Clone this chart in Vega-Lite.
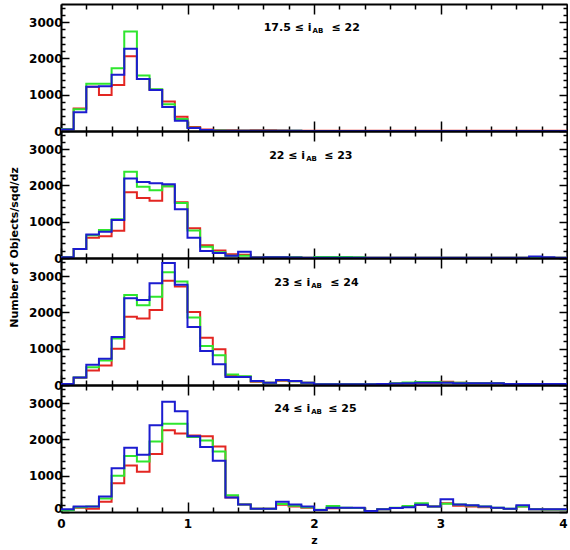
{
  "$schema": "https://vega.github.io/schema/vega-lite/v6.json",
  "background": "white",
  "padding": {"left": 8, "top": 1, "right": 0, "bottom": 0},
  "spacing": 0,
  "bounds": "flush",
  "config": {
    "view": {"stroke": null},
    "axis": {"domainColor": "black", "domainWidth": 2, "tickColor": "black", "tickWidth": 1.5, "labelFont": "DejaVu Sans", "labelFontWeight": "bold", "labelFontSize": 12, "labelColor": "black", "titleFont": "DejaVu Sans", "titleFontWeight": "bold", "titleFontSize": 11, "titleColor": "black", "grid": false, "labelOverlap": false, "zindex": 1},
    "text": {"font": "DejaVu Sans", "fontWeight": "bold", "fontSize": 11, "color": "black"}
  },
  "datasets": {
    "hist": [
      {"panel":1,"z":0.0,"red":50,"green":50,"blue":40},
      {"panel":1,"z":0.1,"red":620,"green":600,"blue":520},
      {"panel":1,"z":0.2,"red":1220,"green":1300,"blue":1220},
      {"panel":1,"z":0.3,"red":990,"green":1300,"blue":1230},
      {"panel":1,"z":0.4,"red":1270,"green":1730,"blue":1550},
      {"panel":1,"z":0.5,"red":2060,"green":2740,"blue":2270},
      {"panel":1,"z":0.6,"red":1430,"green":1530,"blue":1430},
      {"panel":1,"z":0.7,"red":1140,"green":1150,"blue":1130},
      {"panel":1,"z":0.8,"red":810,"green":740,"blue":660},
      {"panel":1,"z":0.9,"red":390,"green":330,"blue":280},
      {"panel":1,"z":1.0,"red":110,"green":90,"blue":80},
      {"panel":1,"z":1.1,"red":40,"green":30,"blue":25},
      {"panel":1,"z":1.2,"red":20,"green":15,"blue":10},
      {"panel":1,"z":1.3,"red":20,"green":10,"blue":10},
      {"panel":1,"z":1.4,"red":15,"green":10,"blue":5},
      {"panel":1,"z":1.5,"red":20,"green":10,"blue":5},
      {"panel":1,"z":1.6,"red":20,"green":5,"blue":5},
      {"panel":1,"z":1.7,"red":15,"green":5,"blue":5},
      {"panel":1,"z":1.8,"red":10,"green":5,"blue":5},
      {"panel":1,"z":1.9,"red":5,"green":3,"blue":3},
      {"panel":1,"z":2.0,"red":5,"green":3,"blue":3},
      {"panel":1,"z":2.1,"red":5,"green":3,"blue":3},
      {"panel":1,"z":2.2,"red":5,"green":3,"blue":3},
      {"panel":1,"z":2.3,"red":5,"green":3,"blue":3},
      {"panel":1,"z":2.4,"red":5,"green":3,"blue":3},
      {"panel":1,"z":2.5,"red":5,"green":3,"blue":3},
      {"panel":1,"z":2.6,"red":5,"green":3,"blue":3},
      {"panel":1,"z":2.7,"red":5,"green":3,"blue":3},
      {"panel":1,"z":2.8,"red":5,"green":3,"blue":3},
      {"panel":1,"z":2.9,"red":5,"green":3,"blue":3},
      {"panel":1,"z":3.0,"red":5,"green":3,"blue":3},
      {"panel":1,"z":3.1,"red":5,"green":3,"blue":3},
      {"panel":1,"z":3.2,"red":5,"green":3,"blue":3},
      {"panel":1,"z":3.3,"red":5,"green":3,"blue":3},
      {"panel":1,"z":3.4,"red":5,"green":3,"blue":3},
      {"panel":1,"z":3.5,"red":5,"green":3,"blue":3},
      {"panel":1,"z":3.6,"red":5,"green":3,"blue":3},
      {"panel":1,"z":3.7,"red":5,"green":3,"blue":3},
      {"panel":1,"z":3.8,"red":5,"green":3,"blue":3},
      {"panel":1,"z":3.9,"red":5,"green":3,"blue":3},
      {"panel":1,"z":4.0,"red":5,"green":3,"blue":3},

      {"panel":2,"z":0.0,"red":20,"green":20,"blue":20},
      {"panel":2,"z":0.1,"red":250,"green":250,"blue":250},
      {"panel":2,"z":0.2,"red":560,"green":630,"blue":650},
      {"panel":2,"z":0.3,"red":600,"green":770,"blue":720},
      {"panel":2,"z":0.4,"red":750,"green":1070,"blue":1050},
      {"panel":2,"z":0.5,"red":1815,"green":2375,"blue":2190},
      {"panel":2,"z":0.6,"red":1655,"green":1965,"blue":2095},
      {"panel":2,"z":0.7,"red":1580,"green":1870,"blue":2060},
      {"panel":2,"z":0.8,"red":1980,"green":1980,"blue":2030},
      {"panel":2,"z":0.9,"red":1535,"green":1515,"blue":1345},
      {"panel":2,"z":1.0,"red":820,"green":760,"blue":560},
      {"panel":2,"z":1.1,"red":350,"green":310,"blue":190},
      {"panel":2,"z":1.2,"red":205,"green":160,"blue":140},
      {"panel":2,"z":1.3,"red":100,"green":60,"blue":60},
      {"panel":2,"z":1.4,"red":90,"green":60,"blue":170},
      {"panel":2,"z":1.5,"red":20,"green":15,"blue":15},
      {"panel":2,"z":1.6,"red":25,"green":20,"blue":20},
      {"panel":2,"z":1.7,"red":30,"green":20,"blue":20},
      {"panel":2,"z":1.8,"red":20,"green":20,"blue":15},
      {"panel":2,"z":1.9,"red":10,"green":10,"blue":10},
      {"panel":2,"z":2.0,"red":10,"green":30,"blue":10},
      {"panel":2,"z":2.1,"red":10,"green":30,"blue":10},
      {"panel":2,"z":2.2,"red":10,"green":25,"blue":10},
      {"panel":2,"z":2.3,"red":10,"green":20,"blue":10},
      {"panel":2,"z":2.4,"red":10,"green":10,"blue":10},
      {"panel":2,"z":2.5,"red":10,"green":10,"blue":10},
      {"panel":2,"z":2.6,"red":10,"green":10,"blue":10},
      {"panel":2,"z":2.7,"red":10,"green":10,"blue":10},
      {"panel":2,"z":2.8,"red":10,"green":10,"blue":10},
      {"panel":2,"z":2.9,"red":10,"green":10,"blue":10},
      {"panel":2,"z":3.0,"red":10,"green":10,"blue":10},
      {"panel":2,"z":3.1,"red":10,"green":10,"blue":10},
      {"panel":2,"z":3.2,"red":10,"green":10,"blue":10},
      {"panel":2,"z":3.3,"red":10,"green":10,"blue":10},
      {"panel":2,"z":3.4,"red":10,"green":10,"blue":10},
      {"panel":2,"z":3.5,"red":10,"green":10,"blue":10},
      {"panel":2,"z":3.6,"red":10,"green":10,"blue":10},
      {"panel":2,"z":3.7,"red":10,"green":10,"blue":40},
      {"panel":2,"z":3.8,"red":10,"green":10,"blue":20},
      {"panel":2,"z":3.9,"red":10,"green":10,"blue":10},
      {"panel":2,"z":4.0,"red":10,"green":10,"blue":10},

      {"panel":3,"z":0.0,"red":30,"green":30,"blue":30},
      {"panel":3,"z":0.1,"red":200,"green":210,"blue":210},
      {"panel":3,"z":0.2,"red":400,"green":490,"blue":555},
      {"panel":3,"z":0.3,"red":540,"green":675,"blue":720},
      {"panel":3,"z":0.4,"red":1000,"green":1280,"blue":1325},
      {"panel":3,"z":0.5,"red":1880,"green":2480,"blue":2390},
      {"panel":3,"z":0.6,"red":1830,"green":2200,"blue":2340},
      {"panel":3,"z":0.7,"red":2065,"green":2435,"blue":2805},
      {"panel":3,"z":0.8,"red":2870,"green":3110,"blue":3360},
      {"panel":3,"z":0.9,"red":2715,"green":2850,"blue":2760},
      {"panel":3,"z":1.0,"red":2015,"green":1860,"blue":1600},
      {"panel":3,"z":1.1,"red":1305,"green":1075,"blue":940},
      {"panel":3,"z":1.2,"red":985,"green":820,"blue":570},
      {"panel":3,"z":1.3,"red":260,"green":290,"blue":220},
      {"panel":3,"z":1.4,"red":230,"green":240,"blue":220},
      {"panel":3,"z":1.5,"red":90,"green":100,"blue":110},
      {"panel":3,"z":1.6,"red":60,"green":60,"blue":60},
      {"panel":3,"z":1.7,"red":120,"green":130,"blue":140},
      {"panel":3,"z":1.8,"red":100,"green":100,"blue":110},
      {"panel":3,"z":1.9,"red":60,"green":60,"blue":60},
      {"panel":3,"z":2.0,"red":20,"green":20,"blue":20},
      {"panel":3,"z":2.1,"red":20,"green":20,"blue":20},
      {"panel":3,"z":2.2,"red":20,"green":20,"blue":20},
      {"panel":3,"z":2.3,"red":20,"green":20,"blue":20},
      {"panel":3,"z":2.4,"red":20,"green":20,"blue":20},
      {"panel":3,"z":2.5,"red":30,"green":30,"blue":30},
      {"panel":3,"z":2.6,"red":40,"green":50,"blue":40},
      {"panel":3,"z":2.7,"red":50,"green":70,"blue":50},
      {"panel":3,"z":2.8,"red":60,"green":80,"blue":60},
      {"panel":3,"z":2.9,"red":60,"green":80,"blue":60},
      {"panel":3,"z":3.0,"red":90,"green":70,"blue":60},
      {"panel":3,"z":3.1,"red":60,"green":60,"blue":50},
      {"panel":3,"z":3.2,"red":50,"green":50,"blue":50},
      {"panel":3,"z":3.3,"red":50,"green":50,"blue":50},
      {"panel":3,"z":3.4,"red":50,"green":50,"blue":50},
      {"panel":3,"z":3.5,"red":30,"green":30,"blue":30},
      {"panel":3,"z":3.6,"red":30,"green":30,"blue":30},
      {"panel":3,"z":3.7,"red":30,"green":30,"blue":30},
      {"panel":3,"z":3.8,"red":30,"green":30,"blue":30},
      {"panel":3,"z":3.9,"red":30,"green":30,"blue":30},
      {"panel":3,"z":4.0,"red":30,"green":30,"blue":30},

      {"panel":4,"z":0.0,"red":55,"green":50,"blue":75},
      {"panel":4,"z":0.1,"red":120,"green":130,"blue":150},
      {"panel":4,"z":0.2,"red":90,"green":150,"blue":150},
      {"panel":4,"z":0.3,"red":280,"green":370,"blue":425},
      {"panel":4,"z":0.4,"red":790,"green":1000,"blue":1205},
      {"panel":4,"z":0.5,"red":1280,"green":1540,"blue":1770},
      {"panel":4,"z":0.6,"red":1110,"green":1390,"blue":1575},
      {"panel":4,"z":0.7,"red":1600,"green":1945,"blue":2390},
      {"panel":4,"z":0.8,"red":2250,"green":2435,"blue":3040},
      {"panel":4,"z":0.9,"red":2160,"green":2435,"blue":2780},
      {"panel":4,"z":1.0,"red":2110,"green":2065,"blue":2090},
      {"panel":4,"z":1.1,"red":2090,"green":1970,"blue":1790},
      {"panel":4,"z":1.2,"red":1805,"green":1665,"blue":1415},
      {"panel":4,"z":1.3,"red":400,"green":465,"blue":400},
      {"panel":4,"z":1.4,"red":210,"green":210,"blue":210},
      {"panel":4,"z":1.5,"red":90,"green":90,"blue":90},
      {"panel":4,"z":1.6,"red":90,"green":90,"blue":90},
      {"panel":4,"z":1.7,"red":200,"green":220,"blue":280},
      {"panel":4,"z":1.8,"red":150,"green":170,"blue":210},
      {"panel":4,"z":1.9,"red":120,"green":130,"blue":150},
      {"panel":4,"z":2.0,"red":55,"green":60,"blue":55},
      {"panel":4,"z":2.1,"red":100,"green":165,"blue":120},
      {"panel":4,"z":2.2,"red":110,"green":120,"blue":120},
      {"panel":4,"z":2.3,"red":110,"green":110,"blue":120},
      {"panel":4,"z":2.4,"red":30,"green":30,"blue":30},
      {"panel":4,"z":2.5,"red":75,"green":75,"blue":75},
      {"panel":4,"z":2.6,"red":110,"green":120,"blue":110},
      {"panel":4,"z":2.7,"red":140,"green":165,"blue":130},
      {"panel":4,"z":2.8,"red":190,"green":240,"blue":200},
      {"panel":4,"z":2.9,"red":150,"green":150,"blue":150},
      {"panel":4,"z":3.0,"red":240,"green":230,"blue":350},
      {"panel":4,"z":3.1,"red":170,"green":210,"blue":210},
      {"panel":4,"z":3.2,"red":150,"green":180,"blue":185},
      {"panel":4,"z":3.3,"red":130,"green":150,"blue":150},
      {"panel":4,"z":3.4,"red":110,"green":120,"blue":120},
      {"panel":4,"z":3.5,"red":80,"green":90,"blue":90},
      {"panel":4,"z":3.6,"red":150,"green":150,"blue":185},
      {"panel":4,"z":3.7,"red":75,"green":75,"blue":75},
      {"panel":4,"z":3.8,"red":70,"green":70,"blue":75},
      {"panel":4,"z":3.9,"red":70,"green":70,"blue":75},
      {"panel":4,"z":4.0,"red":70,"green":70,"blue":75}
    ]
  },
  "vconcat": [
    {
      "width": 506, "height": 127,
      "data": {"name": "hist"},
      "transform": [{"filter": "datum.panel === 1"}],
      "resolve": {"axis": {"x": "independent", "y": "independent"}},
      "layer": [
        {"mark": {"type": "line", "interpolate": "step-after", "color": "#e32622", "strokeWidth": 2, "clip": true},
         "encoding": {
           "x": {"field": "z", "type": "quantitative", "scale": {"domain": [0, 4]}, "axis": {"orient": "bottom", "values": [0,0.2,0.4,0.6,0.8,1,1.2,1.4,1.6,1.8,2,2.2,2.4,2.6,2.8,3,3.2,3.4,3.6,3.8,4], "labels": false, "title": null, "tickSize": {"condition": {"test": "datum.value % 1 === 0", "value": -10}, "value": -5}}},
           "y": {"field": "red", "type": "quantitative", "scale": {"domain": [0, 3500]}, "axis": {"orient": "left", "values": [0,200,400,600,800,1000,1200,1400,1600,1800,2000,2200,2400,2600,2800,3000,3200,3400], "labelExpr": "datum.value % 1000 === 0 ? '' + datum.value : ''", "labelPadding": 7, "title": null, "tickSize": {"condition": {"test": "datum.value % 1000 === 0", "value": -8}, "value": -4}}}
         }},
        {"mark": {"type": "line", "interpolate": "step-after", "color": "#2ee62e", "strokeWidth": 2, "clip": true},
         "encoding": {
           "x": {"field": "z", "type": "quantitative", "axis": {"orient": "top", "values": [0,0.2,0.4,0.6,0.8,1,1.2,1.4,1.6,1.8,2,2.2,2.4,2.6,2.8,3,3.2,3.4,3.6,3.8,4], "labels": false, "title": null, "tickSize": {"condition": {"test": "datum.value % 1 === 0", "value": -10}, "value": -5}}},
           "y": {"field": "green", "type": "quantitative", "axis": {"orient": "right", "values": [0,200,400,600,800,1000,1200,1400,1600,1800,2000,2200,2400,2600,2800,3000,3200,3400], "labels": false, "title": null, "tickSize": {"condition": {"test": "datum.value % 1000 === 0", "value": -8}, "value": -4}}}
         }},
        {"mark": {"type": "line", "interpolate": "step-after", "color": "#1c1cd0", "strokeWidth": 2, "clip": true},
         "encoding": {
           "x": {"field": "z", "type": "quantitative", "axis": null},
           "y": {"field": "blue", "type": "quantitative", "axis": null}
         }},
        {"data": {"values": [{}]}, "mark": {"type": "text", "align": "right", "baseline": "middle"},
         "encoding": {"x": {"datum": 1.98, "type": "quantitative", "axis": null}, "y": {"datum": 2850, "type": "quantitative", "axis": null}, "text": {"value": "17.5 ≤ i"}}},
        {"data": {"values": [{}]}, "mark": {"type": "text", "align": "left", "baseline": "middle", "fontSize": 7, "dx": 1, "dy": 3},
         "encoding": {"x": {"datum": 1.98, "type": "quantitative", "axis": null}, "y": {"datum": 2850, "type": "quantitative", "axis": null}, "text": {"value": "AB"}}},
        {"data": {"values": [{}]}, "mark": {"type": "text", "align": "left", "baseline": "middle", "dx": 20},
         "encoding": {"x": {"datum": 1.98, "type": "quantitative", "axis": null}, "y": {"datum": 2850, "type": "quantitative", "axis": null}, "text": {"value": "≤ 22"}}}
      ]
    },
    {
      "width": 506, "height": 127,
      "data": {"name": "hist"},
      "transform": [{"filter": "datum.panel === 2"}],
      "resolve": {"axis": {"x": "independent", "y": "independent"}},
      "layer": [
        {"mark": {"type": "line", "interpolate": "step-after", "color": "#e32622", "strokeWidth": 2, "clip": true},
         "encoding": {
           "x": {"field": "z", "type": "quantitative", "scale": {"domain": [0, 4]}, "axis": {"orient": "bottom", "values": [0,0.2,0.4,0.6,0.8,1,1.2,1.4,1.6,1.8,2,2.2,2.4,2.6,2.8,3,3.2,3.4,3.6,3.8,4], "labels": false, "title": null, "tickSize": {"condition": {"test": "datum.value % 1 === 0", "value": -10}, "value": -5}}},
           "y": {"field": "red", "type": "quantitative", "scale": {"domain": [0, 3500]}, "axis": {"orient": "left", "values": [0,200,400,600,800,1000,1200,1400,1600,1800,2000,2200,2400,2600,2800,3000,3200,3400], "labelExpr": "datum.value % 1000 === 0 ? '' + datum.value : ''", "labelPadding": 7, "title": "Number of Objects/sqd/dz", "titleY": 116, "titlePadding": 9, "tickSize": {"condition": {"test": "datum.value % 1000 === 0", "value": -8}, "value": -4}}}
         }},
        {"mark": {"type": "line", "interpolate": "step-after", "color": "#2ee62e", "strokeWidth": 2, "clip": true},
         "encoding": {
           "x": {"field": "z", "type": "quantitative", "axis": {"orient": "top", "values": [0,0.2,0.4,0.6,0.8,1,1.2,1.4,1.6,1.8,2,2.2,2.4,2.6,2.8,3,3.2,3.4,3.6,3.8,4], "labels": false, "title": null, "tickSize": {"condition": {"test": "datum.value % 1 === 0", "value": -10}, "value": -5}}},
           "y": {"field": "green", "type": "quantitative", "axis": {"orient": "right", "values": [0,200,400,600,800,1000,1200,1400,1600,1800,2000,2200,2400,2600,2800,3000,3200,3400], "labels": false, "title": null, "tickSize": {"condition": {"test": "datum.value % 1000 === 0", "value": -8}, "value": -4}}}
         }},
        {"mark": {"type": "line", "interpolate": "step-after", "color": "#1c1cd0", "strokeWidth": 2, "clip": true},
         "encoding": {
           "x": {"field": "z", "type": "quantitative", "axis": null},
           "y": {"field": "blue", "type": "quantitative", "axis": null}
         }},
        {"data": {"values": [{}]}, "mark": {"type": "text", "align": "right", "baseline": "middle"},
         "encoding": {"x": {"datum": 1.93, "type": "quantitative", "axis": null}, "y": {"datum": 2810, "type": "quantitative", "axis": null}, "text": {"value": "22 ≤ i"}}},
        {"data": {"values": [{}]}, "mark": {"type": "text", "align": "left", "baseline": "middle", "fontSize": 7, "dx": 1, "dy": 3},
         "encoding": {"x": {"datum": 1.93, "type": "quantitative", "axis": null}, "y": {"datum": 2810, "type": "quantitative", "axis": null}, "text": {"value": "AB"}}},
        {"data": {"values": [{}]}, "mark": {"type": "text", "align": "left", "baseline": "middle", "dx": 19},
         "encoding": {"x": {"datum": 1.93, "type": "quantitative", "axis": null}, "y": {"datum": 2810, "type": "quantitative", "axis": null}, "text": {"value": "≤ 23"}}}
      ]
    },
    {
      "width": 506, "height": 127,
      "data": {"name": "hist"},
      "transform": [{"filter": "datum.panel === 3"}],
      "resolve": {"axis": {"x": "independent", "y": "independent"}},
      "layer": [
        {"mark": {"type": "line", "interpolate": "step-after", "color": "#e32622", "strokeWidth": 2, "clip": true},
         "encoding": {
           "x": {"field": "z", "type": "quantitative", "scale": {"domain": [0, 4]}, "axis": {"orient": "bottom", "values": [0,0.2,0.4,0.6,0.8,1,1.2,1.4,1.6,1.8,2,2.2,2.4,2.6,2.8,3,3.2,3.4,3.6,3.8,4], "labels": false, "title": null, "tickSize": {"condition": {"test": "datum.value % 1 === 0", "value": -10}, "value": -5}}},
           "y": {"field": "red", "type": "quantitative", "scale": {"domain": [0, 3500]}, "axis": {"orient": "left", "values": [0,200,400,600,800,1000,1200,1400,1600,1800,2000,2200,2400,2600,2800,3000,3200,3400], "labelExpr": "datum.value % 1000 === 0 ? '' + datum.value : ''", "labelPadding": 7, "title": null, "tickSize": {"condition": {"test": "datum.value % 1000 === 0", "value": -8}, "value": -4}}}
         }},
        {"mark": {"type": "line", "interpolate": "step-after", "color": "#2ee62e", "strokeWidth": 2, "clip": true},
         "encoding": {
           "x": {"field": "z", "type": "quantitative", "axis": {"orient": "top", "values": [0,0.2,0.4,0.6,0.8,1,1.2,1.4,1.6,1.8,2,2.2,2.4,2.6,2.8,3,3.2,3.4,3.6,3.8,4], "labels": false, "title": null, "tickSize": {"condition": {"test": "datum.value % 1 === 0", "value": -10}, "value": -5}}},
           "y": {"field": "green", "type": "quantitative", "axis": {"orient": "right", "values": [0,200,400,600,800,1000,1200,1400,1600,1800,2000,2200,2400,2600,2800,3000,3200,3400], "labels": false, "title": null, "tickSize": {"condition": {"test": "datum.value % 1000 === 0", "value": -8}, "value": -4}}}
         }},
        {"mark": {"type": "line", "interpolate": "step-after", "color": "#1c1cd0", "strokeWidth": 2, "clip": true},
         "encoding": {
           "x": {"field": "z", "type": "quantitative", "axis": null},
           "y": {"field": "blue", "type": "quantitative", "axis": null}
         }},
        {"data": {"values": [{}]}, "mark": {"type": "text", "align": "right", "baseline": "middle"},
         "encoding": {"x": {"datum": 1.97, "type": "quantitative", "axis": null}, "y": {"datum": 2810, "type": "quantitative", "axis": null}, "text": {"value": "23 ≤ i"}}},
        {"data": {"values": [{}]}, "mark": {"type": "text", "align": "left", "baseline": "middle", "fontSize": 7, "dx": 1, "dy": 3},
         "encoding": {"x": {"datum": 1.97, "type": "quantitative", "axis": null}, "y": {"datum": 2810, "type": "quantitative", "axis": null}, "text": {"value": "AB"}}},
        {"data": {"values": [{}]}, "mark": {"type": "text", "align": "left", "baseline": "middle", "dx": 20},
         "encoding": {"x": {"datum": 1.97, "type": "quantitative", "axis": null}, "y": {"datum": 2810, "type": "quantitative", "axis": null}, "text": {"value": "≤ 24"}}}
      ]
    },
    {
      "width": 506, "height": 127,
      "data": {"name": "hist"},
      "transform": [{"filter": "datum.panel === 4"}],
      "resolve": {"axis": {"x": "independent", "y": "independent"}},
      "layer": [
        {"mark": {"type": "line", "interpolate": "step-after", "color": "#e32622", "strokeWidth": 2, "clip": true},
         "encoding": {
           "x": {"field": "z", "type": "quantitative", "scale": {"domain": [0, 4]}, "axis": {"orient": "bottom", "values": [0,0.2,0.4,0.6,0.8,1,1.2,1.4,1.6,1.8,2,2.2,2.4,2.6,2.8,3,3.2,3.4,3.6,3.8,4], "labelExpr": "datum.value % 1 === 0 ? '' + datum.value : ''", "labelAlign": {"condition": {"test": "datum.value === 4", "value": "right"}, "value": "center"}, "labelPadding": 16, "title": "z", "titlePadding": 0, "tickSize": {"condition": {"test": "datum.value % 1 === 0", "value": -10}, "value": -5}}},
           "y": {"field": "red", "type": "quantitative", "scale": {"domain": [0, 3500]}, "axis": {"orient": "left", "values": [0,200,400,600,800,1000,1200,1400,1600,1800,2000,2200,2400,2600,2800,3000,3200,3400], "labelExpr": "datum.value % 1000 === 0 ? '' + datum.value : ''", "labelBaseline": {"condition": {"test": "datum.value === 0", "value": "alphabetic"}, "value": "middle"}, "labelPadding": 7, "title": null, "tickSize": {"condition": {"test": "datum.value % 1000 === 0", "value": -8}, "value": -4}}}
         }},
        {"mark": {"type": "line", "interpolate": "step-after", "color": "#2ee62e", "strokeWidth": 2, "clip": true},
         "encoding": {
           "x": {"field": "z", "type": "quantitative", "axis": {"orient": "top", "values": [0,0.2,0.4,0.6,0.8,1,1.2,1.4,1.6,1.8,2,2.2,2.4,2.6,2.8,3,3.2,3.4,3.6,3.8,4], "labels": false, "title": null, "tickSize": {"condition": {"test": "datum.value % 1 === 0", "value": -10}, "value": -5}}},
           "y": {"field": "green", "type": "quantitative", "axis": {"orient": "right", "values": [0,200,400,600,800,1000,1200,1400,1600,1800,2000,2200,2400,2600,2800,3000,3200,3400], "labels": false, "title": null, "tickSize": {"condition": {"test": "datum.value % 1000 === 0", "value": -8}, "value": -4}}}
         }},
        {"mark": {"type": "line", "interpolate": "step-after", "color": "#1c1cd0", "strokeWidth": 2, "clip": true},
         "encoding": {
           "x": {"field": "z", "type": "quantitative", "axis": null},
           "y": {"field": "blue", "type": "quantitative", "axis": null}
         }},
        {"data": {"values": [{}]}, "mark": {"type": "text", "align": "right", "baseline": "middle"},
         "encoding": {"x": {"datum": 1.97, "type": "quantitative", "axis": null}, "y": {"datum": 2840, "type": "quantitative", "axis": null}, "text": {"value": "24 ≤ i"}}},
        {"data": {"values": [{}]}, "mark": {"type": "text", "align": "left", "baseline": "middle", "fontSize": 7, "dx": 1, "dy": 3},
         "encoding": {"x": {"datum": 1.97, "type": "quantitative", "axis": null}, "y": {"datum": 2840, "type": "quantitative", "axis": null}, "text": {"value": "AB"}}},
        {"data": {"values": [{}]}, "mark": {"type": "text", "align": "left", "baseline": "middle", "dx": 18},
         "encoding": {"x": {"datum": 1.97, "type": "quantitative", "axis": null}, "y": {"datum": 2840, "type": "quantitative", "axis": null}, "text": {"value": "≤ 25"}}}
      ]
    }
  ]
}
